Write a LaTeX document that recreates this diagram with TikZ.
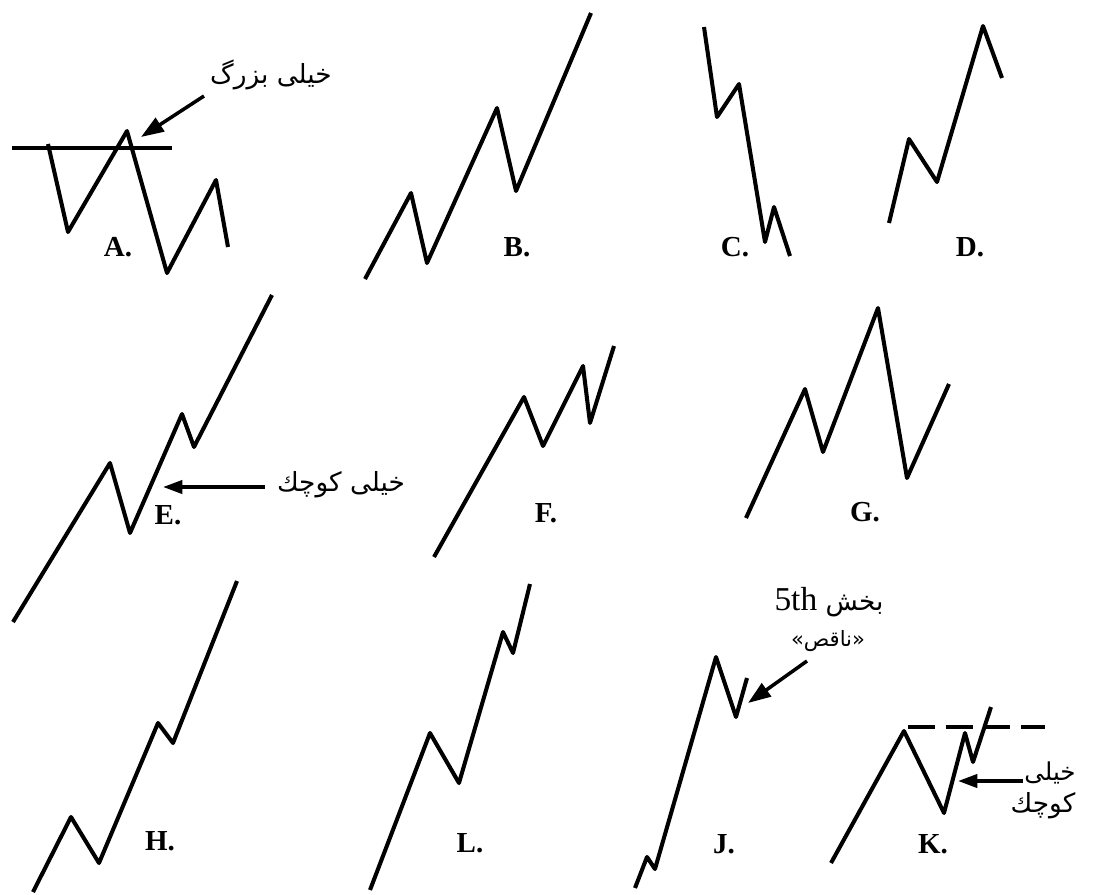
\documentclass[tikz,border=0pt]{standalone}
\usepackage{fontspec}
\setmainfont{Liberation Serif}
\newfontfamily\farsi[Script=Arabic]{DejaVu Sans}
\TeXXeTstate=1
\usetikzlibrary{arrows.meta}

\begin{document}
\begin{tikzpicture}[x=0.02cm,y=-0.02cm,
  wave/.style={line width=2.3pt,line join=round},
  level/.style={line width=2.3pt},
  lbl/.style={font=\fontsize{16.5}{18}\selectfont\bfseries,inner sep=0pt},
  fa/.style={font=\fontsize{15}{17}\farsi,inner sep=0pt},
  ar/.style={-{Triangle[length=11pt,width=7.5pt]},line width=2pt},
  arbig/.style={-{Triangle[length=13pt,width=9pt]},line width=2pt}]
 \useasboundingbox (0,0) rectangle (1093,894);

 % A: the move goes far over the line
 \draw[level] (12,148) -- (172,148);
 \draw[wave] (48,144) -- (68,232) -- (127,131) -- (167,273) -- (216,180) -- (228,247);
 \node[lbl] (labA) at (118,247) {A.};
 \node[fa] (txtA) at (271,75) {\beginR خیلی بزرگ\endR};
 \coordinate (tailA) at (204,96);
 \coordinate (tipA) at (141,137);
 \draw[arbig] (tailA) -- (tipA);

 % B, C, D
 \draw[wave] (365,279) -- (411,193) -- (427,263) -- (497,108) -- (516,191) -- (591,13);
 \node[lbl] (labB) at (517,247) {B.};
 \draw[wave] (704,27) -- (717,117) -- (739,84) -- (765,242) -- (774,207) -- (790,256);
 \node[lbl] (labC) at (735,247) {C.};
 \draw[wave] (889,223) -- (909,139) -- (937,182) -- (983,26) -- (1002,78);
 \node[lbl] (labD) at (970,247) {D.};

 % E: the dip is too small
 \draw[wave] (13,622) -- (110,463) -- (130,533) -- (182,414) -- (194,447) -- (272,295);
 \node[lbl] (labE) at (168,515) {E.};
 \node[fa] (txtE) at (341,485) {\beginR خیلی کوچك\endR};
 \coordinate (tailE) at (265,487);
 \coordinate (tipE) at (163,487);
 \draw[ar] (tailE) -- (tipE);

 % F, G
 \draw[wave] (434,557) -- (524,397) -- (543,446) -- (583,366) -- (590,423) -- (614,346);
 \node[lbl] (labF) at (546,513) {F.};
 \draw[wave] (746,518) -- (805,389) -- (823,452) -- (878,308) -- (907,478) -- (949,384);
 \node[lbl] (labG) at (865,512) {G.};

 % H, L
 \draw[wave] (33,892) -- (71,817) -- (99,863) -- (158,723) -- (173,743) -- (237,581);
 \node[lbl] (labH) at (160,841) {H.};
 \draw[wave] (370,890) -- (430,733) -- (459,783) -- (503,632) -- (513,653) -- (530,584);
 \node[lbl] (labL) at (470,843) {L.};

 % J: truncated fifth
 \draw[wave] (635,888) -- (647,857) -- (655,869) -- (716,657) -- (736,717) -- (747,678);
 \node[lbl] (labJ) at (724,844) {J.};
 \node[font=\fontsize{19}{21}\selectfont,inner sep=0pt] (txtJa) at (829,602)
   {\beginR{\farsi\fontsize{15}{17}\selectfont بخش} \beginL 5th\endL\endR};
 \node[fa,font=\fontsize{12}{14}\farsi] (txtJb) at (828,641) {«ناقص»};
 \coordinate (tailJ) at (807,661);
 \coordinate (tipJ) at (748,703);
 \draw[arbig] (tailJ) -- (tipJ);

 % K: old top and a too small dip
 \draw[level,dash pattern=on 15.3pt off 6.2pt] (908,727) -- (1045,727);
 \draw[wave] (831,863) -- (904,731) -- (944,813) -- (965,733) -- (973,762) -- (991,707);
 \node[lbl] (labK) at (933,844) {K.};
 \node[fa,font=\fontsize{14}{16}\farsi] (txtKa) at (1050,773) {خیلی};
 \node[fa] (txtKb) at (1043,806) {کوچك};
 \coordinate (tailK) at (1023,781);
 \coordinate (tipK) at (958,781);
 \draw[ar] (tailK) -- (tipK);
\end{tikzpicture}
\end{document}
